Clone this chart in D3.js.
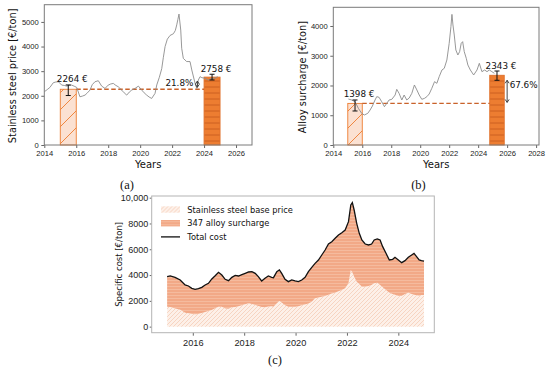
<!DOCTYPE html>
<html lang="en">
<head>
<meta charset="UTF-8">
<title>Stainless steel price, alloy surcharge and specific cost</title>
<script src="https://cdnjs.cloudflare.com/ajax/libs/d3/7.8.5/d3.min.js"></script>
<style>
    body { margin: 0; background: #fff; }
    svg { display: block; font-family: "DejaVu Sans", sans-serif; }
    .tick text { fill: #222; }
    .tick line { stroke: #666; }
</style>
</head>
<body>
<svg id="chart" width="550" height="367"></svg>
<script>
// (a) stainless steel price [€/ton]
const priceYears = [2014.0, 2014.18, 2014.35, 2014.56, 2014.72, 2014.88, 2015.09, 2015.25, 2015.4, 2015.55,
    2015.71, 2015.87, 2016.03, 2016.23, 2016.4, 2016.55, 2016.7, 2016.86, 2017.0, 2017.17,
    2017.38, 2017.59, 2017.8, 2018.0, 2018.16, 2018.32, 2018.48, 2018.63, 2018.84, 2019.0,
    2019.16, 2019.32, 2019.47, 2019.68, 2019.89, 2020.1, 2020.25, 2020.41, 2020.56, 2020.72,
    2020.93, 2021.04, 2021.2, 2021.35, 2021.45, 2021.56, 2021.7, 2021.87, 2022.08, 2022.2,
    2022.29, 2022.36, 2022.43, 2022.54, 2022.6, 2022.7, 2022.91, 2023.12, 2023.23, 2023.44,
    2023.54, 2023.64, 2023.75, 2023.86, 2024.06, 2024.27, 2024.5, 2024.7, 2024.85];
const priceValues = [2163, 2250, 2339, 2529, 2560, 2570, 2434, 2420, 2393, 2420,
    2434, 2390, 2339, 1959, 1990, 2027, 2120, 2231, 2450, 2570,
    2611, 2393, 2298, 2434, 2480, 2502, 2420, 2366, 2231, 2120,
    2027, 2150, 2231, 2298, 2393, 2231, 2120, 2027, 1950, 1891,
    2095, 2440, 2750, 3100, 3550, 4000, 4300, 4450, 4520, 4650,
    4880, 5100, 5320, 4670, 3930, 3520, 3390, 3390, 3050, 2500,
    2300, 2640, 2776, 2735, 2710, 2640, 2700, 2720, 2776];
const priceBars = [
    { start: 2015, end: 2016, value: 2264, lo: 2010, hi: 2440, label: "2264 €", kind: "hatch" },
    { start: 2024, end: 2025, value: 2758, lo: 2642, hi: 2875, label: "2758 €", kind: "solid" }
];
const priceChange = { year: 2023.58, label: "21.8%" };

// (b) alloy surcharge [€/ton]
const alloyYears = [2015.04, 2015.27, 2015.5, 2015.73, 2015.96, 2016.14, 2016.38, 2016.54, 2016.7, 2016.88,
    2017.0, 2017.16, 2017.34, 2017.53, 2017.69, 2017.85, 2018.04, 2018.27, 2018.38, 2018.54,
    2018.73, 2018.89, 2019.07, 2019.24, 2019.42, 2019.6, 2019.77, 2019.93, 2020.11, 2020.3,
    2020.46, 2020.62, 2020.8, 2020.99, 2021.15, 2021.31, 2021.5, 2021.66, 2021.84, 2022.0,
    2022.12, 2022.19, 2022.26, 2022.35, 2022.46, 2022.6, 2022.72, 2022.83, 2022.93, 2023.04,
    2023.18, 2023.29, 2023.46, 2023.69, 2023.92, 2024.08, 2024.26, 2024.45, 2024.61, 2024.77,
    2024.95, 2025.12];
const alloyValues = [1546, 1512, 1456, 1232, 1064, 1008, 1064, 1176, 1311, 1512,
    1625, 1602, 1456, 1288, 1400, 1512, 1535, 1680, 1871, 1737,
    1512, 1680, 1512, 1580, 1737, 2017, 1849, 1680, 1535, 1569,
    1625, 1714, 1905, 2129, 2073, 2297, 2521, 2577, 2857, 3417,
    3978, 4390, 4034, 3697, 3193, 3025, 3137, 3417, 3473, 3137,
    2913, 2689, 2521, 2353, 2521, 2745, 2465, 2521, 2465, 2521,
    2465, 2409];
const alloyBars = [
    { start: 2015, end: 2016, value: 1398, lo: 1143, hi: 1513, label: "1398 €", kind: "hatch" },
    { start: 2024.8, end: 2025.8, value: 2343, lo: 2175, hi: 2487, label: "2343 €", kind: "solid" }
];
const alloyChange = { year: 2026.0, label: "67.6%" };

// (c) specific cost [€/ton]
const costYears = [2015.0, 2015.12, 2015.31, 2015.51, 2015.7, 2015.83, 2015.96, 2016.09, 2016.22, 2016.35,
    2016.48, 2016.61, 2016.74, 2016.87, 2017.0, 2017.13, 2017.26, 2017.39, 2017.52, 2017.65,
    2017.78, 2017.91, 2018.04, 2018.17, 2018.3, 2018.43, 2018.55, 2018.68, 2018.81, 2018.94,
    2019.07, 2019.14, 2019.27, 2019.37, 2019.46, 2019.59, 2019.72, 2019.85, 2019.98, 2020.11,
    2020.24, 2020.37, 2020.5, 2020.63, 2020.76, 2020.89, 2021.02, 2021.15, 2021.28, 2021.41,
    2021.54, 2021.67, 2021.8, 2021.93, 2022.06, 2022.15, 2022.21, 2022.28, 2022.38, 2022.48,
    2022.58, 2022.71, 2022.84, 2022.96, 2023.06, 2023.18, 2023.29, 2023.39, 2023.52, 2023.65,
    2023.78, 2023.87, 2024.0, 2024.13, 2024.26, 2024.39, 2024.52, 2024.61, 2024.71, 2024.81,
    2024.9, 2025.0];
const totalCost = [3876, 3928, 3824, 3618, 3230, 3152, 2972, 2894, 2946, 3049,
    3230, 3359, 3700, 3950, 4212, 4005, 3669, 3566, 3824, 3979,
    3928, 4031, 4134, 4238, 4264, 4134, 3876, 3540, 3747, 3928,
    3824, 3798, 4264, 4393, 4134, 3669, 3488, 3618, 3540, 3488,
    3618, 3824, 4264, 4600, 4910, 5168, 5556, 5943, 6408, 6589,
    6848, 7106, 7287, 7494, 8140, 9432, 9612, 9044, 8010, 7235,
    6718, 6408, 6331, 6408, 6718, 6796, 6718, 6202, 5685, 5168,
    5220, 5375, 5168, 4961, 5116, 5375, 5556, 5685, 5426, 5168,
    5116, 5080];
const basePrice = [1550, 1520, 1400, 1300, 1085, 1030, 982, 970, 982, 1050,
    1137, 1220, 1292, 1420, 1550, 1550, 1400, 1380, 1499, 1530,
    1580, 1650, 1730, 1809, 1750, 1680, 1600, 1530, 1499, 1570,
    1580, 1550, 1809, 1990, 1880, 1650, 1550, 1550, 1550, 1580,
    1654, 1720, 1800, 1938, 2196, 2250, 2320, 2377, 2480, 2570,
    2636, 2740, 2850, 2972, 3359, 4393, 4200, 3876, 3488, 3300,
    3101, 3101, 3150, 3230, 3359, 3411, 3230, 3050, 2840, 2620,
    2540, 2480, 2377, 2377, 2532, 2636, 2532, 2480, 2430, 2400,
    2455, 2455];
const costLegend = ["Stainless steel base price", "347 alloy surcharge", "Total cost"];

const xTicksA = d3.range(2014, 2027, 2);
const xTicksB = d3.range(2014, 2029, 2);
const xTicksC = d3.range(2016, 2025, 2);
const yTicksA = d3.range(0, 5001, 1000);
const yTicksB = d3.range(0, 4001, 1000);
const yTicksC = d3.range(0, 10001, 2000);

const orange = "#ed7d31";
const darkOrange = "#c9622a";

const svg = d3.select("#chart");
const defs = svg.append("defs");

function pattern(id, w, h, bg, draw) {
    const p = defs.append("pattern")
        .attr("id", id)
        .attr("patternUnits", "userSpaceOnUse")
        .attr("width", w)
        .attr("height", h);
    p.append("rect").attr("width", w).attr("height", h).attr("fill", bg);
    draw(p);
}

// diagonal "/" hatch for the 2015 bars
pattern("barDiag", 17, 17, "#fbe1d2", p => p.append("path")
    .attr("d", "M0,17L17,0M-2,2L2,-2M15,19L19,15")
    .attr("stroke", orange).attr("stroke-width", 0.9));
// horizontal lines for the recent bars
pattern("barHoriz", 6, 6, orange, p => p.append("line")
    .attr("x1", 0).attr("x2", 6).attr("y1", 3).attr("y2", 3)
    .attr("stroke", "#c4571c").attr("stroke-width", 0.8));
// panel (c) fills
pattern("baseDiag", 4, 4, "#fdf0e8", p => p.append("path")
    .attr("d", "M0,4L4,0M-1,1L1,-1M3,5L5,3")
    .attr("stroke", "#f5c8b0").attr("stroke-width", 0.7));
pattern("surHoriz", 3, 3, "#f2a987", p => p.append("line")
    .attr("x1", 0).attr("x2", 3).attr("y1", 1.5).attr("y2", 1.5)
    .attr("stroke", "#f7c3a8").attr("stroke-width", 0.7));

function drawPricePanel(opts) {
    const { left, right, top, bottom, xDomain, yDomain, years, values, bars, change,
        xTicks, yTicks, yLabel, dashEnd, clipId } = opts;
    const x = d3.scaleLinear().domain(xDomain).range([left, right]);
    const y = d3.scaleLinear().domain(yDomain).range([bottom, top]);
    const g = svg.append("g");

    defs.append("clipPath").attr("id", clipId)
        .append("rect").attr("x", left).attr("y", top)
        .attr("width", right - left).attr("height", bottom - top);

    // bars
    g.selectAll("rect.bar").data(bars).join("rect")
        .attr("class", "bar")
        .attr("x", d => x(d.start))
        .attr("y", d => y(d.value))
        .attr("width", d => x(d.end) - x(d.start))
        .attr("height", d => y(0) - y(d.value))
        .attr("fill", d => d.kind === "hatch" ? "url(#barDiag)" : "url(#barHoriz)")
        .attr("stroke", d => d.kind === "hatch" ? orange : "#e0712a")
        .attr("stroke-width", 0.9);

    // reference level
    g.append("line")
        .attr("x1", x(bars[0].end)).attr("x2", x(dashEnd))
        .attr("y1", y(bars[0].value)).attr("y2", y(bars[0].value))
        .attr("stroke", darkOrange).attr("stroke-width", 1.4)
        .attr("stroke-dasharray", "4.5,2.5");

    // price line
    const line = d3.line().x((d, i) => x(years[i])).y(d => y(d));
    g.append("path")
        .datum(values)
        .attr("clip-path", `url(#${clipId})`)
        .attr("d", line)
        .attr("fill", "none")
        .attr("stroke", "#8c8c8c")
        .attr("stroke-width", 0.9);

    // error bars
    bars.forEach(b => {
        const cx = x((b.start + b.end) / 2);
        const eb = g.append("g").attr("stroke", "#111").attr("stroke-width", 1);
        eb.append("line").attr("x1", cx).attr("x2", cx).attr("y1", y(b.lo)).attr("y2", y(b.hi));
        eb.append("line").attr("x1", cx - 2.5).attr("x2", cx + 2.5).attr("y1", y(b.lo)).attr("y2", y(b.lo));
        eb.append("line").attr("x1", cx - 2.5).attr("x2", cx + 2.5).attr("y1", y(b.hi)).attr("y2", y(b.hi));
        g.append("text")
            .attr("x", cx + 4)
            .attr("y", y(b.hi) - 2.5)
            .attr("text-anchor", "middle")
            .attr("font-size", 8.8)
            .attr("fill", "#111")
            .text(b.label);
    });

    // change arrow
    const ax = x(change.year);
    const y0 = y(bars[0].value), y1 = y(bars[1].value);
    const shrinkTop = opts.shrinkTop, shrinkBot = opts.shrinkBot;
    const a = g.append("g").attr("stroke", "#333").attr("stroke-width", 0.9).attr("fill", "none");
    a.append("line").attr("x1", ax).attr("x2", ax).attr("y1", y1 + shrinkTop).attr("y2", y0 - shrinkBot);
    a.append("path").attr("d", `M${ax - 2},${y1 + shrinkTop + 3}L${ax},${y1 + shrinkTop}L${ax + 2},${y1 + shrinkTop + 3}`);
    a.append("path").attr("d", `M${ax - 2},${y0 - shrinkBot - 3}L${ax},${y0 - shrinkBot}L${ax + 2},${y0 - shrinkBot - 3}`);
    g.append("text")
        .attr("x", ax + opts.changeDx)
        .attr("y", opts.changeY)
        .attr("text-anchor", opts.changeAnchor)
        .attr("font-size", 8.8)
        .attr("fill", "#111")
        .text(change.label);

    // axes
    const xa = g.append("g").attr("transform", `translate(0,${bottom})`)
        .call(d3.axisBottom(x).tickValues(xTicks).tickFormat(d3.format("d"))
            .tickSize(3).tickPadding(3).tickSizeOuter(0));
    xa.select(".domain").remove();
    xa.selectAll("text").attr("font-size", 7.6);
    const ya = g.append("g").attr("transform", `translate(${left},0)`)
        .call(d3.axisLeft(y).tickValues(yTicks).tickFormat(d3.format("d"))
            .tickSize(3).tickPadding(2.5).tickSizeOuter(0));
    ya.select(".domain").remove();
    ya.selectAll("text").attr("font-size", 7.6);

    g.append("rect")
        .attr("x", left).attr("y", top)
        .attr("width", right - left).attr("height", bottom - top)
        .attr("fill", "none").attr("stroke", "#7a7a7a").attr("stroke-width", 1);

    g.append("text")
        .attr("x", (left + right) / 2).attr("y", 167.5)
        .attr("text-anchor", "middle").attr("font-size", 10).attr("fill", "#111")
        .text("Years");
    g.append("text")
        .attr("transform", `translate(${opts.yLabelX},${(top + bottom) / 2 + 1}) rotate(-90)`)
        .attr("text-anchor", "middle").attr("dominant-baseline", "central")
        .attr("font-size", 9.8).attr("fill", "#111")
        .text(yLabel);
}

drawPricePanel({
    left: 44.3, right: 252, top: 4.7, bottom: 145,
    xDomain: [2014, 2027], yDomain: [0, 5700],
    years: priceYears, values: priceValues, bars: priceBars, change: priceChange,
    xTicks: xTicksA, yTicks: yTicksA,
    yLabel: "Stainless steel price [€/ton]", yLabelX: 12.5,
    dashEnd: 2024, clipId: "clipA",
    shrinkTop: 4, shrinkBot: 2, changeDx: -4, changeY: 86, changeAnchor: "end"
});

drawPricePanel({
    left: 333.3, right: 539, top: 7.3, bottom: 145,
    xDomain: [2014, 2028.2], yDomain: [0, 4628],
    years: alloyYears, values: alloyValues, bars: alloyBars, change: alloyChange,
    xTicks: xTicksB, yTicks: yTicksB,
    yLabel: "Alloy surcharge [€/ton]", yLabelX: 302.5,
    dashEnd: 2024.8, clipId: "clipB",
    shrinkTop: 5, shrinkBot: 1, changeDx: 2.5, changeY: 88, changeAnchor: "start"
});

// panel (c)
(function () {
    const left = 151.7, right = 434.3, top = 196, bottom = 332.7;
    const x = d3.scaleLinear().domain([2014.4, 2025.4]).range([left, right]);
    const y = d3.scaleLinear().domain([-470, 10130]).range([bottom, top]);
    const g = svg.append("g");
    const rows = costYears.map((yr, i) => ({ yr, total: totalCost[i], base: basePrice[i] }));

    g.append("path").datum(rows)
        .attr("d", d3.area().x(d => x(d.yr)).y0(y(0)).y1(d => y(d.base)))
        .attr("fill", "url(#baseDiag)");
    g.append("path").datum(rows)
        .attr("d", d3.area().x(d => x(d.yr)).y0(d => y(d.base)).y1(d => y(d.total)))
        .attr("fill", "url(#surHoriz)");
    g.append("path").datum(rows)
        .attr("d", d3.line().x(d => x(d.yr)).y(d => y(d.total)))
        .attr("fill", "none").attr("stroke", "#111").attr("stroke-width", 1.3);

    const xa = g.append("g").attr("transform", `translate(0,${bottom})`)
        .call(d3.axisBottom(x).tickValues(xTicksC).tickFormat(d3.format("d"))
            .tickSize(3).tickPadding(4).tickSizeOuter(0));
    xa.select(".domain").remove();
    xa.selectAll("text").attr("font-size", 9.2);
    const ya = g.append("g").attr("transform", `translate(${left},0)`)
        .call(d3.axisLeft(y).tickValues(yTicksC)
            .tickFormat(d => d >= 10000 ? d3.format(",")(d) : String(d))
            .tickSize(2).tickPadding(1.5).tickSizeOuter(0));
    ya.select(".domain").remove();
    ya.selectAll("text").attr("font-size", 9);

    g.append("rect")
        .attr("x", left).attr("y", top)
        .attr("width", right - left).attr("height", bottom - top)
        .attr("fill", "none").attr("stroke", "#b4b4b4").attr("stroke-width", 1);

    g.append("text")
        .attr("transform", `translate(119,${(top + bottom) / 2}) rotate(-90)`)
        .attr("text-anchor", "middle").attr("dominant-baseline", "central")
        .attr("font-size", 8.5).attr("fill", "#111")
        .text("Specific cost [€/ton]");

    // legend
    const lg = g.append("g").attr("transform", "translate(161,209.5)");
    costLegend.forEach((name, i) => {
        const row = lg.append("g").attr("transform", `translate(0,${i * 13.7})`);
        if (i < 2) {
            row.append("rect").attr("x", 0).attr("y", -3.2).attr("width", 19).attr("height", 6.4)
                .attr("fill", i === 0 ? "url(#baseDiag)" : "url(#surHoriz)");
        } else {
            row.append("line").attr("x1", 0).attr("x2", 19).attr("y1", 0).attr("y2", 0)
                .attr("stroke", "#111").attr("stroke-width", 1.3);
        }
        row.append("text").attr("x", 26.3).attr("y", 0)
            .attr("dominant-baseline", "central")
            .attr("font-size", 8.3).attr("fill", "#111")
            .text(name);
    });
})();

// panel captions
[["(a)", 127, 189], ["(b)", 418.5, 189], ["(c)", 275, 363.5]].forEach(([t, cx, cy]) => {
    svg.append("text")
        .attr("x", cx).attr("y", cy)
        .attr("text-anchor", "middle")
        .attr("font-family", "'Liberation Serif', serif")
        .attr("font-size", 12.5)
        .attr("fill", "#111")
        .text(t);
});
</script>
</body>
</html>
